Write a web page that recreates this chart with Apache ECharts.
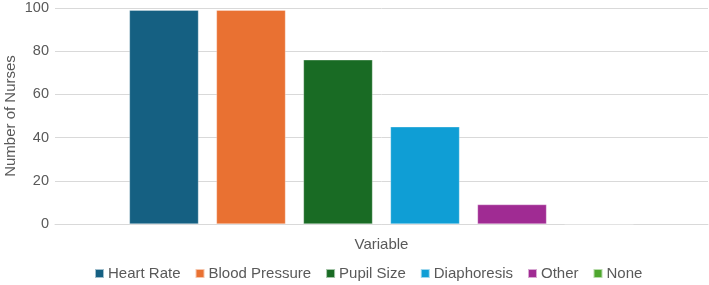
<!DOCTYPE html>
<html>
<head>
<meta charset="utf-8">
<script src="https://cdn.jsdelivr.net/npm/echarts@6/dist/echarts.min.js"></script>
<style>
  html, body { margin: 0; padding: 0; background: #fff; }
  #chart { width: 709px; height: 285px; }
</style>
</head>
<body>
<div id="chart"></div>
<script>
  var variables = ['Heart Rate', 'Blood Pressure', 'Pupil Size', 'Diaphoresis', 'Other', 'None'];
  var nurses = [99, 99, 76, 45, 9, 0];
  var colors = ['#156082', '#e97132', '#196b24', '#0f9ed5', '#a02b93', '#4ea72e'];
  var yTicks = [0, 20, 40, 60, 80, 100];

  var myChart = echarts.init(document.getElementById('chart'));

  var series = [];
  for (var i = 0; i < variables.length; i++) {
    series.push({
      name: variables[i],
      type: 'bar',
      data: [nurses[i]],
      barGap: '26%',
      barCategoryGap: '22.8%',
      itemStyle: {
        color: colors[i],
        borderColor: 'rgba(255,255,255,0.6)',
        borderWidth: 0.5
      }
    });
  }

  var option = {
    animation: false,
    color: colors,
    textStyle: { fontFamily: 'Liberation Sans, Arial, sans-serif' },
    grid: { left: 55, right: 1, top: 8, bottom: 61, outerBoundsMode: 'none' },
    legend: {
      top: 261,
      left: 89,
      itemWidth: 9,
      itemHeight: 9,
      itemGap: 14,
      icon: 'rect',
      textStyle: { color: '#595959', fontSize: 15, padding: [0, 0, 0, -1] },
      data: variables
    },
    xAxis: {
      type: 'category',
      data: [''],
      name: 'Variable',
      nameLocation: 'middle',
      nameGap: 13,
      nameMoveOverlap: false,
      nameTextStyle: { color: '#595959', fontSize: 15 },
      axisTick: { show: false },
      axisLabel: { show: false },
      axisLine: { lineStyle: { color: '#d9d9d9', width: 1 } }
    },
    yAxis: {
      type: 'value',
      min: yTicks[0],
      max: yTicks[yTicks.length - 1],
      interval: 20,
      name: 'Number of Nurses',
      nameLocation: 'middle',
      nameGap: 37,
      nameMoveOverlap: false,
      nameTextStyle: { color: '#595959', fontSize: 15 },
      axisLine: { show: false },
      axisTick: { show: false },
      axisLabel: { color: '#595959', fontSize: 14.5, margin: 6 },
      splitLine: { lineStyle: { color: '#d9d9d9', width: 1 } }
    },
    series: series
  };

  myChart.setOption(option);
</script>
</body>
</html>
